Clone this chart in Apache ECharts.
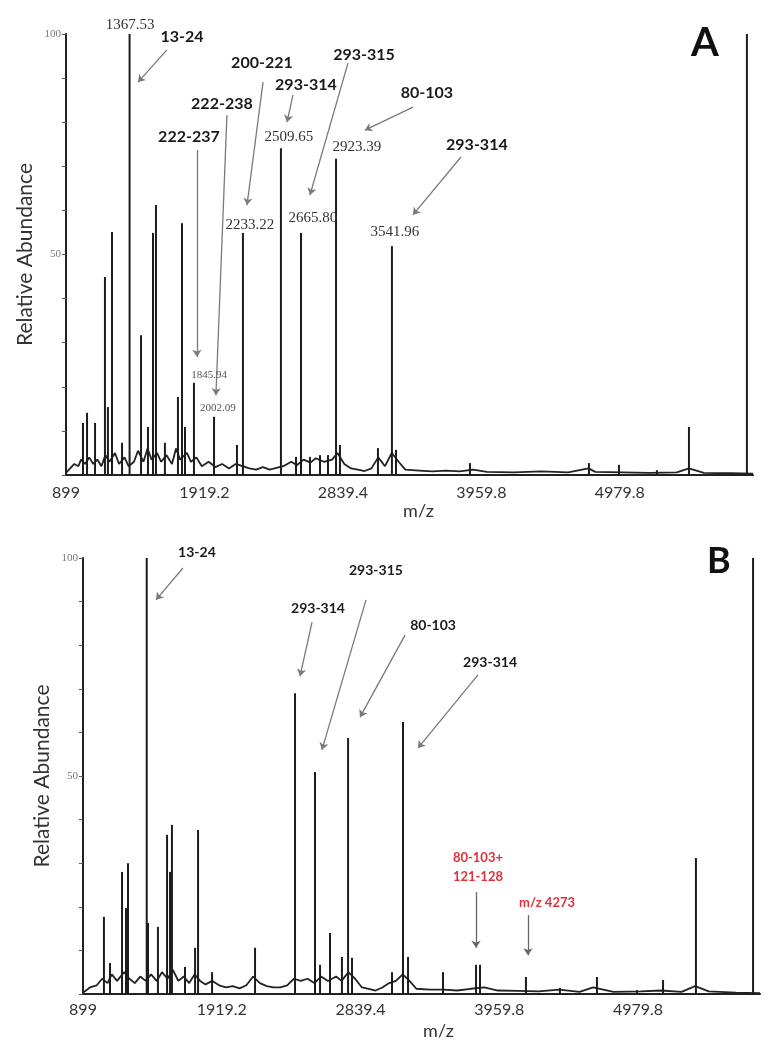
<!DOCTYPE html>
<html>
<head>
<meta charset="utf-8">
<title>MALDI spectra A / B</title>
<script src="https://cdn.jsdelivr.net/npm/echarts@6/dist/echarts.min.js"></script>
<style>
  html, body { margin: 0; padding: 0; background: #fff; }
  #chart { width: 773px; height: 1050px; }
</style>
</head>
<body>
<div id="chart"></div>
<script>
// x轴刻度 (原图刻度等距, 第三个标签印的是 2839.4)
const xTickValues = [899, 1919.2, 2939.4, 3959.8, 4979.8]
const xTickLabels = ['899', '1919.2', '2839.4', '3959.8', '4979.8']

// ---- 图 A: 峰 (m/z, 相对丰度) ----
const peakMzA = [1024, 1054, 1113, 1186, 1208, 1238, 1312, 1367.53, 1452, 1503, 1540, 1562, 1628, 1724, 1754, 1776,
  1842, 1990, 2159, 2203, 2483, 2594, 2631, 2697, 2771, 2830, 2889, 2918, 3198, 3301, 3331, 3876, 4753, 4974, 5254, 5490, 5917]
const peakIntA = [11.8, 14.1, 11.8, 44.9, 15.4, 55.1, 7.3, 100, 31.7, 10.9, 54.9, 61.2, 7.3, 17.7, 57.1, 10.9,
  20.9, 13.2, 6.8, 54.9, 74.1, 4.1, 54.9, 4.1, 4.5, 4.5, 71.7, 6.8, 6.1, 51.9, 5.7, 2.7, 2.7, 2.3, 1.1, 10.9, 100]
// 基线噪声 A
const baseMzA = [899, 930, 960, 990, 1010, 1040, 1070, 1100, 1130, 1160, 1190, 1220, 1260, 1290, 1330, 1360, 1400, 1430,
  1470, 1500, 1530, 1570, 1600, 1640, 1680, 1710, 1740, 1790, 1820, 1860, 1900, 1950, 2000, 2050, 2100, 2150, 2200,
  2250, 2300, 2350, 2400, 2450, 2500, 2560, 2600, 2650, 2700, 2740, 2800, 2860, 2900, 2950, 3000, 3050, 3100, 3150,
  3200, 3250, 3300, 3350, 3400, 3500, 3600, 3700, 3800, 3900, 4000, 4200, 4400, 4600, 4750, 4800, 5000, 5200, 5400,
  5490, 5600, 5800, 5962]
const baseIntA = [0.5, 1.5, 2.5, 2, 3.5, 2.5, 4, 2.5, 3.5, 2, 4.5, 3, 5, 2.5, 4, 2, 3, 5.5,
  3, 6, 3.5, 5, 3, 4.5, 2.5, 6, 3.5, 5, 3, 4, 2, 3, 1.8, 2.5, 1.5, 2.5, 2,
  1.5, 1.2, 1.8, 1.2, 1.6, 2, 3, 2.2, 3.5, 2.8, 3.8, 3, 3.5, 5, 2.5, 1.5, 1.2, 0.9, 1.5,
  4, 2, 5, 3, 1.2, 1, 0.8, 1, 0.8, 1.2, 0.7, 0.6, 0.8, 0.6, 1.5, 0.7, 0.6, 0.5, 0.6,
  1.5, 0.5, 0.4, 0.3]

// ---- 图 B ----
const peakMzB = [1053, 1097.5, 1186, 1215, 1230, 1367.53, 1377, 1450, 1517, 1539, 1553, 1649, 1723, 1745, 1848, 2164,
  2458, 2605, 2642, 2715, 2803, 2848, 2877, 3171, 3252, 3289, 3546, 3789, 3818, 4156, 4406, 4678, 4973, 5164, 5406, 5826]
const peakIntB = [17.7, 7.1, 28.0, 19.7, 30.0, 100, 16.3, 15.4, 36.5, 28.0, 38.8, 6.2, 10.6, 37.6, 5.0, 10.6,
  69.0, 50.9, 6.7, 14.0, 8.5, 58.7, 8.3, 5.0, 62.4, 8.5, 5.0, 6.7, 6.7, 3.9, 1.4, 3.9, 0.9, 3.2, 31.2, 100]
const baseMzB = [899, 950, 1000, 1040, 1080, 1110, 1150, 1200, 1240, 1280, 1320, 1360, 1400, 1440, 1480, 1520, 1560,
  1600, 1640, 1680, 1720, 1760, 1800, 1850, 1900, 1950, 2000, 2050, 2100, 2150, 2200, 2250, 2300, 2350, 2400, 2450,
  2500, 2550, 2600, 2650, 2700, 2760, 2800, 2850, 2900, 2950, 3000, 3050, 3100, 3150, 3200, 3250, 3300, 3350, 3450,
  3550, 3650, 3750, 3850, 3950, 4100, 4250, 4400, 4550, 4650, 4700, 4800, 5000, 5150, 5300, 5400, 5500, 5700, 5877]
const baseIntB = [0.3, 1.5, 2, 3.5, 2.5, 4.5, 3, 5, 3.5, 2.5, 4, 3, 4.5, 3, 5, 3.5, 5.5,
  3, 4, 2.5, 4.5, 3, 2.2, 3, 2, 1.5, 1.8, 1.3, 2, 4, 2.5, 1.8, 1.5, 1.5, 2, 3.5,
  3, 3.5, 2.5, 4, 3, 4, 3, 5, 3.5, 1.5, 1.2, 0.8, 1.5, 2.5, 3, 4.5, 3, 1.2, 1,
  1, 0.8, 1.2, 1.5, 0.8, 0.7, 0.6, 1, 0.5, 1.5, 1.2, 0.5, 0.6, 0.8, 0.5, 1.8, 0.6, 0.3, 0.2]

// 标注 (文字, m/z, 丰度, 上移像素)
const labelsA = [
  ['13-24', 1754, 99.3], ['200-221', 2343, 93.4], ['293-315', 3095, 95.2], ['293-314', 2667, 88.4],
  ['222-238', 2048, 84.1], ['222-237', 1805, 76.6], ['80-103', 3559, 86.6], ['293-314', 3927, 74.8]
]
const arrowsA = [
  [1643, 96.4, 1430, 89.1], [2351, 89.1, 2233, 61.2], [2977, 93.4, 2697, 63.5], [2572, 86.2, 2528, 80.0],
  [2085, 81.6, 2004, 18.1], [1864, 73.7, 1864, 26.8], [3456, 83.4, 3102, 78.2], [3810, 72.1, 3456, 59.0]
]
const massLabelsA = [
  ['1367.53', 1371, 100, -9], ['2509.65', 2542, 76.6], ['2923.39', 3043, 74.4], ['2233.22', 2255, 56.7],
  ['2665.80', 2719, 58.3], ['3541.96', 3323, 55.1]
]
const smallMassLabelsA = [['1845.94', 1953, 22.7], ['2002.09', 2019, 15.2]]

const labelsB = [
  ['13-24', 1737, 100, -6], ['293-314', 2627, 88.5], ['293-315', 3053, 97.2], ['80-103', 3473, 84.6], ['293-314', 3892, 76.1]
]
const arrowsB = [
  [1634, 97.7, 1436, 90.4], [2583, 85.3, 2495, 72.9], [2980, 90.4, 2656, 56.0], [3267, 82.3, 2936, 63.5],
  [3803, 73.2, 3362, 56.4]
]
const redLabelsB = [['80-103+\n121-128', 3803, 29.0], ['m/z 4273', 4311, 20.9]]
const redArrowsB = [[3789, 23.4, 3789, 10.6], [4171, 18.1, 4171, 8.9]]

const sans = 'Lato, "Open Sans", sans-serif'
const serif = '"Liberation Serif", "DejaVu Serif", serif'

function zip(xs, ys) {
  return xs.map((x, i) => [x, ys[i]])
}

function textPoints(list, style) {
  return list.map((l) => ({
    name: l[0],
    coord: [l[1], l[2]],
    label: Object.assign({}, style, { offset: [0, l[3] || 0] }),
  }))
}

function arrowLines(list, color) {
  return list.map((a) => [
    { coord: [a[0], a[1]], lineStyle: { color: color } },
    { coord: [a[2], a[3]] },
  ])
}

function xAxisOf(idx, max) {
  return {
    type: 'value',
    gridIndex: idx,
    min: 899,
    max: max,
    name: 'm/z',
    nameLocation: 'middle',
    nameGap: idx === 0 ? 26 : 28,
    nameTextStyle: { fontFamily: sans, fontSize: 18, color: '#333', padding: idx === 0 ? [0, 0, 0, 18] : [0, 0, 0, 34] },
    splitLine: { show: false },
    axisLine: { lineStyle: { color: '#222', width: 2 } },
    axisTick: { show: false },
    axisLabel: {
      customValues: xTickValues,
      margin: idx === 0 ? 10 : 8,
      fontFamily: sans,
      fontSize: 16,
      color: '#333',
      formatter: (v) => {
        let best = 0
        xTickValues.forEach((t, i) => {
          if (Math.abs(t - v) < Math.abs(xTickValues[best] - v)) best = i
        })
        return xTickLabels[best]
      },
    },
  }
}

function yAxisOf(idx, gap) {
  return {
    type: 'value',
    gridIndex: idx,
    min: 0,
    max: 100,
    interval: 10,
    name: 'Relative Abundance',
    nameLocation: 'middle',
    nameRotate: 90,
    nameGap: gap,
    nameMoveOverlap: false,
    nameTextStyle: { fontFamily: sans, fontSize: 21, color: '#333' },
    splitLine: { show: false },
    axisLine: { show: true, lineStyle: { color: '#222', width: 2 } },
    axisTick: { show: true, length: 4, lineStyle: { color: '#555' } },
    axisLabel: {
      margin: 5,
      fontFamily: serif,
      fontSize: 11,
      color: '#777',
      formatter: (v) => (v === 50 || v === 100 ? String(v) : ''),
    },
  }
}

function spectrumSeries(idx, mz, inten, bMz, bInt) {
  return [
    {
      type: 'line',
      xAxisIndex: idx,
      yAxisIndex: idx,
      data: zip(bMz, bInt),
      showSymbol: false,
      silent: true,
      lineStyle: { color: '#222', width: 1.8 },
      z: 2,
    },
    {
      type: 'bar',
      xAxisIndex: idx,
      yAxisIndex: idx,
      data: zip(mz, inten),
      barWidth: 2,
      silent: true,
      itemStyle: { color: '#1c1c1c' },
      z: 3,
    },
  ]
}

function annotationSeries(idx, points, lines) {
  return {
    type: 'line',
    xAxisIndex: idx,
    yAxisIndex: idx,
    data: [],
    clip: false,
    silent: true,
    z: 5,
    markPoint: {
      symbol: 'circle',
      symbolSize: 1,
      itemStyle: { color: 'rgba(0,0,0,0)' },
      label: { show: true, position: 'inside', formatter: '{b}' },
      data: points,
    },
    markLine: {
      symbol: ['none', 'arrow'],
      symbolSize: 7,
      silent: true,
      label: { show: false },
      lineStyle: { type: 'solid', width: 1.3, color: '#7a7a7a' },
      data: lines,
    },
  }
}

const boldA = { fontFamily: sans, fontWeight: 'bold', fontSize: 16, color: '#1a1a1a' }
const boldB = { fontFamily: sans, fontWeight: 'bold', fontSize: 14, color: '#1a1a1a' }
const massStyle = { fontFamily: serif, fontSize: 15, color: '#333' }
const smallMassStyle = { fontFamily: serif, fontSize: 11, color: '#555' }
const redStyle = { fontFamily: sans, fontWeight: 'bold', fontSize: 13, color: '#e0303a', lineHeight: 19 }

const chart = echarts.init(document.getElementById('chart'), null, { renderer: 'canvas' })

const option = {
  backgroundColor: '#fff',
  animation: false,
  title: [
    { text: 'A', left: 686, top: 18, textStyle: { fontFamily: sans, fontWeight: 'bold', fontSize: 40, color: '#111' } },
    { text: 'B', left: 702, top: 538, textStyle: { fontFamily: sans, fontWeight: 'bold', fontSize: 36, color: '#111' } },
  ],
  grid: [
    { left: 66, top: 34, width: 687, height: 441, outerBoundsMode: 'none' },
    { left: 83, top: 558, width: 677, height: 436, outerBoundsMode: 'none' },
  ],
  xAxis: [xAxisOf(0, 5962), xAxisOf(1, 5877)],
  yAxis: [yAxisOf(0, 30), yAxisOf(1, 30)],
  series: [
    ...spectrumSeries(0, peakMzA, peakIntA, baseMzA, baseIntA),
    ...spectrumSeries(1, peakMzB, peakIntB, baseMzB, baseIntB),
    annotationSeries(
      0,
      [
        ...textPoints(labelsA, boldA),
        ...textPoints(massLabelsA, massStyle),
        ...textPoints(smallMassLabelsA, smallMassStyle),
      ],
      arrowLines(arrowsA, '#7a7a7a')
    ),
    annotationSeries(
      1,
      [...textPoints(labelsB, boldB), ...textPoints(redLabelsB, redStyle)],
      [...arrowLines(arrowsB, '#7a7a7a'), ...arrowLines(redArrowsB, '#666')]
    ),
  ],
}

chart.setOption(option)
</script>
</body>
</html>
